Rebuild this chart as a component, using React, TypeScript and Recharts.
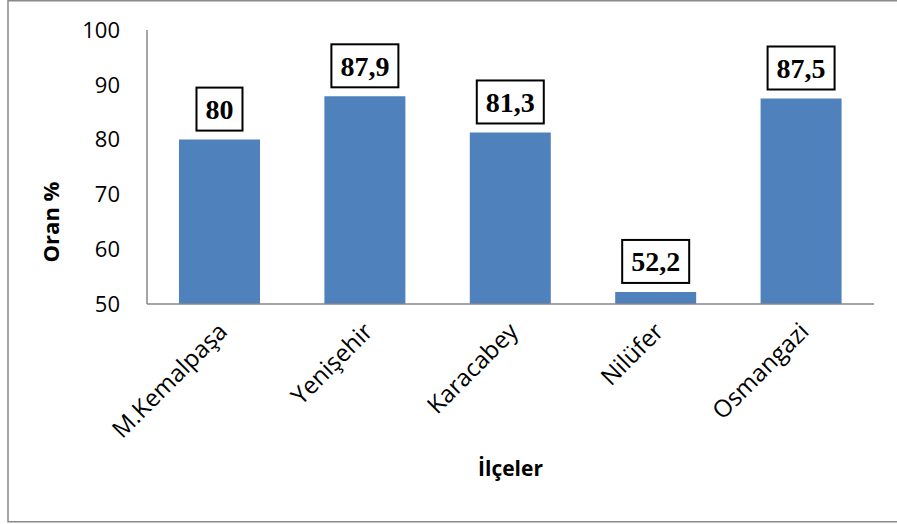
import { BarChart, Bar, XAxis, YAxis, LabelList, Label } from "recharts";

const districts = ["M.Kemalpaşa", "Yenişehir", "Karacabey", "Nilüfer", "Osmangazi"];
const rates = [80, 87.9, 81.3, 52.2, 87.5];
const yTicks = [50, 60, 70, 80, 90, 100];

const data = districts.map((name, i) => ({ name, rate: rates[i] }));

const SANS = "'Open Sans', 'Liberation Sans', sans-serif";
const SERIF = "'Liberation Serif', 'Times New Roman', serif";
const AXIS = "#878787";

function fmt(v: number) {
  return String(v).replace(".", ",");
}

function measure(text: string, font: string) {
  try {
    const ctx = document.createElement("canvas").getContext("2d");
    if (ctx) {
      ctx.font = font;
      return ctx.measureText(text).width;
    }
  } catch (e) {}
  return text.length * 14;
}

function BoxLabel(props: any) {
  const { x, y, width, value } = props;
  const txt = fmt(value);
  const tw = measure(txt, `bold 28px ${SERIF}`);
  const w = tw + 18;
  const h = 43;
  const cx = x + width / 2;
  const bottom = y - 9;
  return (
    <g>
      <rect x={cx - w / 2} y={bottom - h} width={w} height={h} fill="#fff" stroke="#000" strokeWidth={2} />
      <text x={cx} y={bottom - h / 2 + 10} textAnchor="middle" fontFamily={SERIF} fontWeight="bold" fontSize={28} fill="#000">
        {txt}
      </text>
    </g>
  );
}

function XTick(props: any) {
  const { x, y, payload } = props;
  const tx = x + 9;
  const ty = y + 29;
  return (
    <text x={tx} y={ty} transform={`rotate(-45, ${tx}, ${ty})`} textAnchor="end" fontFamily={SANS} fontSize={24} fill="#000">
      {payload.value}
    </text>
  );
}

function YTitle(props: any) {
  const cx = 50;
  const cy = 222;
  return (
    <text x={cx} y={cy} transform={`rotate(-90, ${cx}, ${cy})`} textAnchor="middle" dominantBaseline="central" fontFamily={SANS} fontWeight="bold" fontSize={22} fill="#000">
      Oran %
    </text>
  );
}

export default function App() {
  return (
    <div style={{ position: "absolute", left: 0, top: 0, width: 897, height: 524, background: "#fff" }}>
      <svg width={897} height={524} style={{ position: "absolute", left: 0, top: 0 }}>
        <rect x={8} y={0.75} width={1000} height={521} fill="#fff" stroke="#8a8a8a" strokeWidth={1.5} />
      </svg>
      <div style={{ position: "absolute", left: 0, top: 0 }}>
        <BarChart width={897} height={524} data={data} margin={{ top: 30, right: 23, bottom: 50, left: 87 }} barCategoryGap="22%">
          <XAxis
            dataKey="name"
            height={170}
            tickLine={false}
            tickSize={0}
            tickMargin={0}
            interval={0}
            axisLine={{ stroke: AXIS, strokeWidth: 1.5 }}
            tick={<XTick />}
          >
            <Label
              value="İlçeler"
              position="insideBottom"
              content={({ viewBox }: any) => (
                <text x={viewBox.x + viewBox.width / 2} y={476} textAnchor="middle" fontFamily={SANS} fontWeight="bold" fontSize={21} fill="#000">
                  İlçeler
                </text>
              )}
            />
          </XAxis>
          <YAxis
            width={60}
            domain={[50, 100]}
            ticks={yTicks}
            allowDataOverflow
            tickLine={false}
            tickSize={0}
            tickMargin={27}
            axisLine={{ stroke: AXIS, strokeWidth: 1.5 }}
            tick={{ fill: "#000", fontSize: 22, fontFamily: SANS }}
          >
            <Label value="Oran %" content={<YTitle />} />
          </YAxis>
          <Bar dataKey="rate" fill="#4F81BD" isAnimationActive={false}>
            <LabelList dataKey="rate" content={<BoxLabel />} />
          </Bar>
        </BarChart>
      </div>
    </div>
  );
}
